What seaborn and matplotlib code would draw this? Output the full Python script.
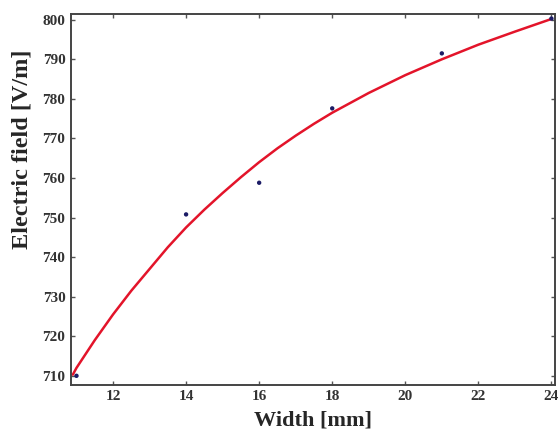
import matplotlib
matplotlib.use("Agg")
import matplotlib.pyplot as plt
import pandas as pd
import seaborn as sns

# measured points
width_mm = [11, 14, 16, 18, 21, 24]
field_vm = [710.0, 750.8, 758.8, 777.6, 791.5, 800.3]

# fitted curve
fit_width = [10.9, 11, 11.5, 12, 12.5, 13, 13.5, 14, 14.5, 15, 15.5, 16,
             16.5, 17, 17.5, 18, 19, 20, 21, 22, 23, 24]
fit_field = [710.3, 712.0, 719.0, 725.5, 731.5, 737.0, 742.5, 747.5, 752.0,
             756.2, 760.2, 764.0, 767.5, 770.7, 773.7, 776.5, 781.5, 786.0,
             790.0, 793.7, 797.0, 800.2]

x_ticks = [12, 14, 16, 18, 20, 22, 24]
y_ticks = [710, 720, 730, 740, 750, 760, 770, 780, 790, 800]

sns.set_style("ticks")
plt.rcParams["font.family"] = ["Liberation Serif", "DejaVu Serif"]

pts = pd.DataFrame({"Width": width_mm, "Field": field_vm})
fit = pd.DataFrame({"Width": fit_width, "Field": fit_field})

fig = plt.figure(figsize=(5.59, 4.32), dpi=100)
ax = fig.add_axes([0.127, 0.109, 0.866, 0.859])

sns.lineplot(x="Width", y="Field", data=fit, ax=ax, color="#e3142a", linewidth=1.8)
sns.scatterplot(x="Width", y="Field", data=pts, ax=ax, color="#1c1c66",
                s=10, edgecolor="none", zorder=3)

ax.set_xlim(10.85, 24.1)
ax.set_ylim(707.7, 801.5)
ax.set_xticks(x_ticks)
ax.set_yticks(y_ticks)

for s in ax.spines.values():
    s.set_color("#444444")
    s.set_linewidth(1.4)

ax.tick_params(direction="in", length=3, width=1, color="#555555",
               top=True, right=True, labelsize=11, labelcolor="#333333", pad=4)
for lbl in ax.get_xticklabels() + ax.get_yticklabels():
    lbl.set_fontweight("bold")

ax.set_xlabel("Width [mm]", fontsize=16, fontweight="bold", labelpad=5)
ax.set_ylabel("Electric field [V/m]", fontsize=17.5, fontweight="bold")
ax.yaxis.set_label_coords(-0.079, 0.636)

fig.savefig("out.png", dpi=100)
